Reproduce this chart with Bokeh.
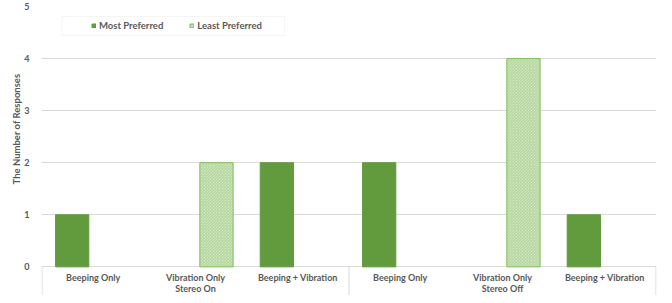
from bokeh.plotting import figure
from bokeh.models import (Range1d, FixedTicker, Legend, LegendItem, Title, BoxAnnotation)
from bokeh.core.properties import value
from bokeh.embed import file_html
from bokeh.resources import INLINE

groups = ["Stereo On", "Stereo Off"]
modes = ["Beeping Only", "Vibration Only", "Beeping + Vibration"]
most_preferred = [1, 0, 2, 2, 0, 1]
least_preferred = [0, 2, 0, 0, 4, 0]
y_ticks = [0, 1, 2, 3, 4, 5]

FONT = "Lato"
TXT = "#595959"
GRID = "#d9d9d9"
SOLID = "#629a3e"
HATCH_EDGE = "#7fbf5a"
HATCH = "#a9d18e"
HATCH_BG = "#e2efda"

n_groups = len(groups)
n_modes = len(modes)
n = n_groups * n_modes
centers = [i + 0.5 for i in range(n)]
off = 0.205
bw = 0.325
Y0 = -0.55

p = figure(width=664, height=295, output_backend="svg", toolbar_location=None,
           x_range=Range1d(-0.005, n + 0.005), y_range=Range1d(Y0, 5.0),
           min_border_left=41, min_border_right=8, min_border_top=6, min_border_bottom=0)
p.outline_line_color = None
p.xaxis.visible = False
p.xgrid.visible = False
p.ygrid.ticker = FixedTicker(ticks=y_ticks)
p.ygrid.grid_line_color = GRID
p.yaxis.ticker = FixedTicker(ticks=y_ticks)
p.yaxis.axis_line_color = None
p.yaxis.major_tick_line_color = None
p.yaxis.minor_tick_line_color = None
p.yaxis.major_label_standoff = 6
p.yaxis.major_label_text_font = FONT
p.yaxis.major_label_text_font_size = "9px"
p.yaxis.major_label_text_color = TXT
p.yaxis.major_label_text_font_style = "bold"

# legend box (drawn first)
p.add_layout(BoxAnnotation(left=0.195, right=2.371, top=4.808, bottom=4.444,
                           fill_color="white", fill_alpha=1, line_color=GRID, line_width=1,
                           level="underlay"))

mx = [c - off for c, v in zip(centers, most_preferred) if v > 0]
mv = [v for v in most_preferred if v > 0]
lx = [c + off for c, v in zip(centers, least_preferred) if v > 0]
lv = [v for v in least_preferred if v > 0]

r_most = p.vbar(x=mx, top=mv, bottom=0, width=bw, fill_color=SOLID, line_color=SOLID)
r_least = p.vbar(x=lx, top=lv, bottom=0, width=bw, fill_color=HATCH_BG, line_color=HATCH_EDGE,
                 line_width=1, hatch_pattern="left_diagonal_line", hatch_color=HATCH,
                 hatch_scale=3, hatch_weight=1)

# category axis decorations
bounds = [g * n_modes for g in range(n_groups + 1)]
p.segment(x0=bounds, y0=[0] * len(bounds), x1=bounds, y1=[Y0] * len(bounds),
          line_color=GRID, line_width=1)

labels = [m for g in groups for m in modes]
p.text(x=centers, y=[-0.2] * n, text=labels, text_font=value(FONT), text_font_size="9px",
       text_font_style="bold", text_color=TXT, text_align="center", text_baseline="middle")
gcenters = [g * n_modes + n_modes / 2 for g in range(n_groups)]
p.text(x=gcenters, y=[-0.42] * n_groups, text=groups, text_font=value(FONT),
       text_font_size="9px", text_font_style="bold", text_color=TXT, text_align="center",
       text_baseline="middle")

p.add_layout(Title(text="The Number of Responses", align="right", offset=67,
                   text_font=FONT, text_font_size="9.5px", text_font_style="bold",
                   text_color=TXT, standoff=0), "left")

legend = Legend(items=[LegendItem(label="Most Preferred", renderers=[r_most]),
                       LegendItem(label="Least Preferred", renderers=[r_least])],
                location=(50, 264), orientation="horizontal", padding=0, margin=0,
                spacing=26, label_standoff=3, glyph_width=5, glyph_height=5,
                label_height=10, border_line_color=None, background_fill_alpha=0,
                label_text_font=FONT, label_text_font_size="9.5px",
                label_text_font_style="bold", label_text_color=TXT)
p.add_layout(legend)

open("out.html", "w").write(file_html(p, INLINE))
